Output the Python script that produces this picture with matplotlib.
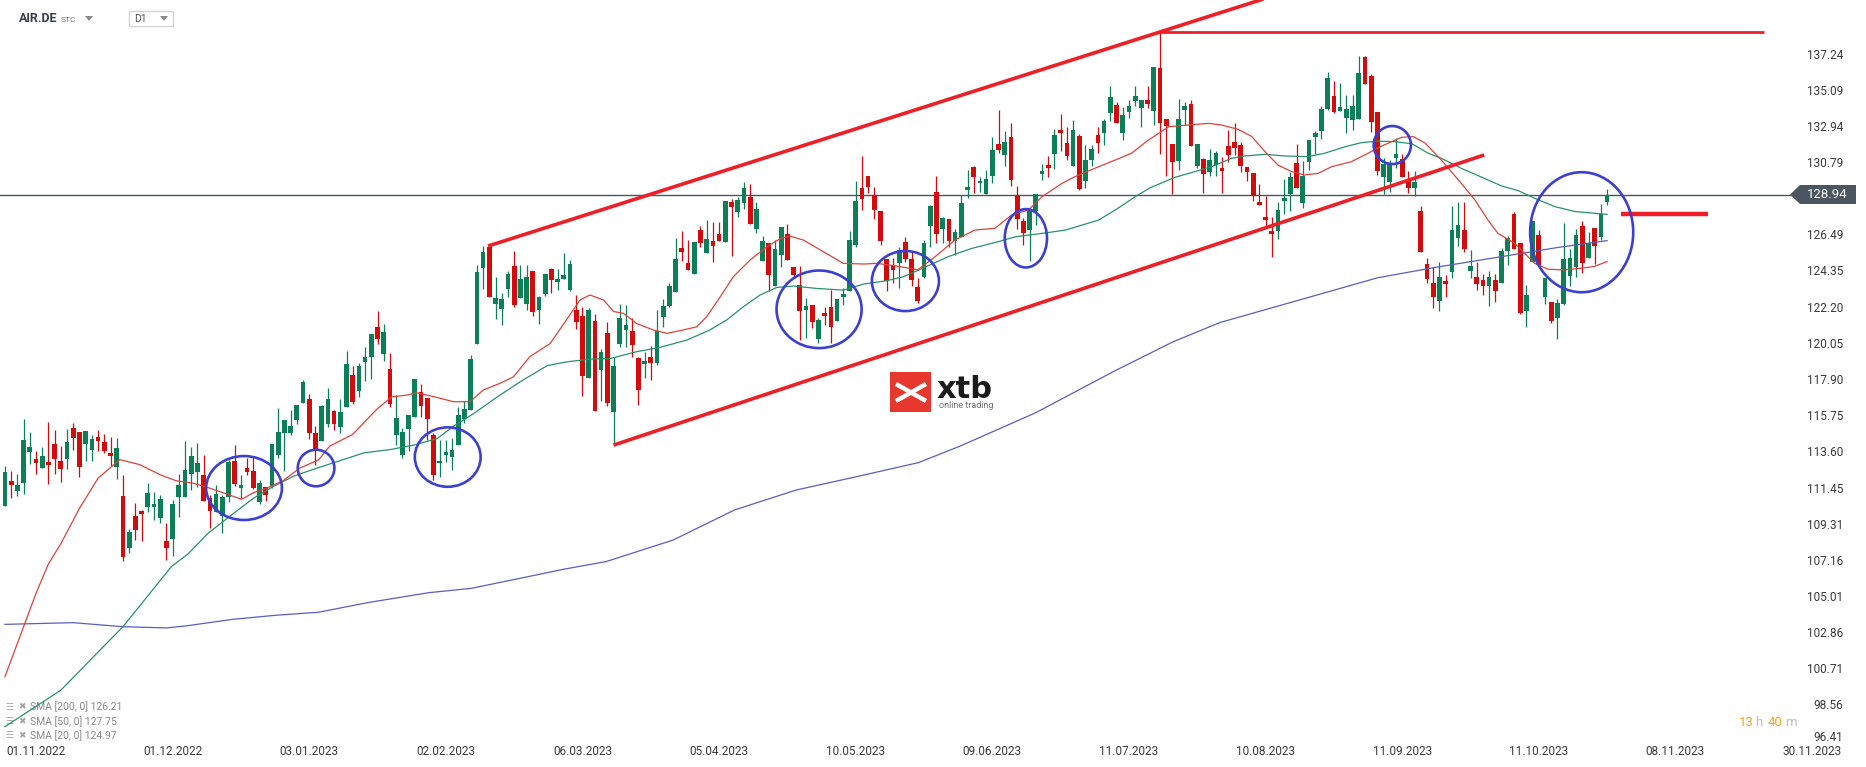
import matplotlib
matplotlib.use("Agg")
import matplotlib.pyplot as plt
import numpy as np
from matplotlib.patches import Ellipse, Rectangle, Polygon

plt.rcParams['font.family'] = ['Roboto', 'DejaVu Sans']

# daily candles, first visible bar sits 5 sessions before 01.11.2022
first_bar = -5
opens = [
    110.46, 111.93, 111.35, 111.79, 113.67, 113.23, 112.72, 113.05, 114.12, 113.11,
    113.23, 115.07, 114.84, 114.14, 113.79, 114.54, 114.24, 113.59, 112.78, 111.03,
    107.96, 109.85, 110.12, 110.40, 110.40, 109.75, 108.36, 108.50, 110.95, 110.95,
    112.36, 112.46, 112.28, 110.92, 110.06, 109.87, 110.97, 113.11, 111.53, 112.70,
    112.52, 110.70, 111.57, 111.63, 113.47, 114.80, 114.80, 115.57, 116.58, 116.80,
    114.78,
    114.32, 115.31, 116.10, 115.15, 116.34, 118.22, 117.29, 119.01, 119.31, 121.07,
    119.47, 118.58, 114.64, 113.49, 114.99, 115.75, 117.19, 116.86, 114.66, 113.00,
    113.47, 113.35, 114.06, 115.61, 116.14, 120.06, 124.58, 125.83, 122.44, 122.14,
    123.33, 124.70, 122.80, 122.44, 124.40, 122.08, 123.03, 124.52, 123.75, 123.93,
    123.27, 122.08, 121.73, 118.04, 121.43, 118.52, 120.72, 116.02, 120.06,
    120.90, 120.84, 119.24, 118.86, 119.27, 118.92, 121.69, 122.34, 123.17, 125.77,
    124.88, 124.22, 126.86, 125.47, 126.17, 126.60, 126.15, 128.52, 127.93, 128.42,
    128.82, 126.90, 125.00, 126.09, 123.53, 125.35, 126.60, 124.66, 123.57, 122.09,
    122.38, 120.36, 121.89, 122.24, 121.45, 122.84, 123.23, 125.93, 129.33, 130.05,
    128.92, 127.95, 125.10, 124.76, 124.90, 126.11, 125.10, 123.43,
    124.07, 127.10, 129.08, 126.88, 127.47, 126.17, 126.40, 129.24, 130.58, 129.61,
    128.98, 130.07, 131.95, 131.30, 132.37, 128.88, 127.38, 126.84, 127.99, 130.19,
    130.68, 131.38, 132.78, 132.01, 130.64, 132.43, 129.77, 131.02, 132.49, 132.60,
    133.81, 134.27, 132.62, 133.87, 134.53, 134.11, 134.56,
    133.93, 136.47, 133.44, 131.95, 130.96, 133.97, 134.33, 130.64, 131.06, 130.29,
    130.70, 130.52, 131.83, 132.07, 131.89, 130.58, 130.23, 128.50, 127.61, 126.78,
    126.80, 128.58, 128.98, 130.82, 128.46, 130.90, 132.39, 132.74, 134.01, 134.80,
    133.93, 133.52, 133.40, 133.46, 137.12, 135.99, 133.85,
    130.01, 129.70, 131.14, 131.06, 129.86, 129.34, 127.97, 124.83, 123.70, 122.65,
    123.81, 124.35, 126.39, 126.85, 124.41, 124.05, 123.87, 123.54, 123.87, 123.70,
    125.60, 127.80, 126.05, 122.00, 124.96, 126.55, 122.88, 122.57, 121.64, 122.47,
    124.13, 124.67, 127.08, 125.20, 126.96, 126.45, 128.53,
]
highs = [
    112.82, 112.52, 112.34, 115.61, 114.84, 113.71, 113.95, 115.43, 114.96, 114.01,
    115.01, 115.37, 114.84, 114.90, 114.66, 114.96, 114.72, 114.54, 114.48, 112.28,
    109.07, 110.62, 110.20, 111.81, 111.27, 111.09, 109.43, 110.80, 112.36, 114.30,
    113.95, 114.18, 113.47, 111.09, 111.69, 111.09, 113.17, 114.06, 112.28, 113.29,
    113.35, 111.98, 111.57, 114.12, 116.26, 115.55, 116.14, 116.44, 117.93, 117.09,
    115.19,
    116.44, 117.45, 116.14, 116.80, 119.65, 118.76, 118.94, 119.89, 120.66, 122.02,
    121.25, 119.53, 117.03, 115.05, 115.85, 117.98, 117.69, 116.86, 114.80, 114.36,
    114.36, 114.48, 116.32, 116.68, 119.41, 124.76, 125.89, 125.89, 124.04, 123.09,
    124.40, 125.59, 124.76, 124.76, 124.40, 122.92, 124.22, 124.58, 124.52, 125.47,
    125.05, 122.98, 122.26, 122.20, 121.85, 119.77, 121.37, 119.29, 122.44,
    122.38, 121.59, 119.30, 119.61, 119.94, 122.09, 122.76, 123.67, 126.38, 126.80,
    126.24, 126.13, 127.10, 127.43, 127.30, 127.30, 128.56, 128.66, 128.82, 129.71,
    129.57, 128.52, 126.48, 126.09, 126.24, 127.02, 127.19, 124.66, 124.72, 122.82,
    122.38, 121.59, 122.28, 123.27, 122.72, 123.37, 126.78, 129.75, 131.24, 130.05,
    129.41, 127.95, 125.10, 125.16, 125.81, 126.40, 125.55, 124.00,
    126.25, 128.35, 130.05, 127.63, 127.47, 126.88, 128.92, 130.41, 130.64, 129.97,
    130.41, 132.37, 133.97, 132.72, 133.20, 129.48, 127.57, 128.23, 128.96, 130.76,
    131.22, 132.84, 133.73, 132.94, 133.38, 132.55, 131.89, 131.89, 132.94, 133.44,
    135.40, 134.45, 134.17, 134.57, 135.40, 134.56, 135.40,
    136.53, 138.61, 133.44, 131.95, 134.60, 134.45, 134.56, 131.95, 131.14, 131.65,
    131.53, 131.20, 132.78, 133.20, 132.07, 130.58, 130.23, 129.57, 128.86, 127.63,
    128.48, 129.87, 130.31, 131.95, 130.94, 132.19, 132.74, 134.21, 136.23, 135.69,
    135.57, 134.86, 134.86, 137.18, 137.18, 136.11, 133.85,
    131.10, 131.00, 132.29, 131.36, 130.35, 130.35, 128.27, 125.18, 124.67, 124.94,
    124.17, 128.27, 128.49, 128.49, 125.66, 124.94, 124.23, 124.41, 124.23, 125.78,
    126.49, 127.92, 126.05, 123.58, 127.38, 126.85, 124.01, 122.57, 122.75, 127.26,
    125.72, 126.90, 127.38, 126.73, 126.96, 128.39, 129.28,
]
lows = [
    110.46, 110.94, 111.03, 111.15, 112.96, 112.36, 112.72, 111.77, 112.36, 111.89,
    112.66, 113.77, 112.18, 113.11, 113.11, 113.71, 113.59, 112.84, 112.06, 107.20,
    107.63, 108.42, 108.38, 110.08, 109.61, 109.43, 107.23, 107.47, 109.81, 110.95,
    111.41, 111.57, 110.76, 109.13, 110.06, 108.86, 110.70, 111.63, 110.94, 112.28,
    111.45, 110.58, 110.76, 111.51, 113.29, 112.54, 114.68, 115.29, 116.58, 114.42,
    112.90,
    114.32, 115.13, 114.96, 114.80, 116.34, 116.50, 116.94, 117.87, 118.00, 120.06,
    119.05, 116.34, 114.06, 113.27, 113.73, 115.75, 115.75, 114.34, 111.99, 112.17,
    113.06, 112.58, 114.06, 115.35, 116.14, 120.06, 123.31, 122.86, 121.55, 121.19,
    122.86, 122.26, 122.80, 122.08, 121.73, 121.25, 122.92, 123.09, 123.27, 123.93,
    123.21, 120.95, 116.98, 118.04, 116.08, 116.68, 116.38, 114.06, 119.91,
    119.91, 119.27, 116.44, 118.02, 117.93, 118.82, 121.09, 122.28, 123.17, 125.02,
    124.48, 124.22, 125.81, 125.47, 124.94, 126.20, 126.15, 125.29, 127.63, 128.09,
    127.21, 126.64, 125.00, 123.19, 123.53, 124.62, 125.06, 123.97, 120.30, 120.40,
    121.00, 120.10, 121.19, 120.10, 121.45, 122.38, 123.23, 125.85, 128.03, 129.02,
    127.49, 125.95, 123.21, 123.71, 123.41, 124.96, 123.53, 122.48,
    123.97, 125.81, 126.05, 126.05, 125.81, 125.36, 126.40, 128.72, 129.06, 129.12,
    128.98, 129.65, 131.40, 130.64, 129.48, 126.92, 125.93, 125.02, 127.14, 129.79,
    130.01, 130.45, 131.51, 131.00, 130.64, 129.24, 129.36, 130.64, 131.40, 131.89,
    133.34, 133.18, 132.19, 133.48, 134.19, 132.94, 134.07,
    133.08, 131.36, 130.07, 128.98, 130.41, 133.08, 131.85, 130.54, 129.04, 130.07,
    130.07, 129.04, 130.90, 131.30, 130.31, 129.75, 128.58, 128.35, 127.04, 125.26,
    126.31, 127.81, 127.99, 129.36, 128.17, 130.43, 131.38, 132.23, 133.95, 133.81,
    133.93, 132.62, 132.78, 133.46, 135.54, 132.68, 130.11,
    128.97, 129.12, 130.51, 129.97, 129.06, 128.89, 125.54, 123.72, 122.23, 122.00,
    122.88, 123.99, 125.92, 125.56, 124.01, 123.28, 122.98, 122.35, 122.59, 123.70,
    124.79, 125.74, 121.87, 121.10, 124.96, 124.77, 122.47, 121.34, 120.35, 122.41,
    123.54, 124.07, 124.31, 125.20, 124.83, 126.25, 128.35,
]
closes = [
    112.46, 111.71, 111.69, 114.36, 113.95, 113.01, 113.41, 112.90, 113.23, 112.66,
    114.24, 114.50, 112.78, 114.90, 114.42, 114.32, 113.71, 113.41, 113.89, 107.40,
    108.89, 109.03, 109.95, 111.21, 110.56, 110.86, 107.96, 110.56, 111.69, 112.58,
    113.41, 112.99, 110.76, 110.16, 111.15, 110.97, 113.05, 111.75, 111.69, 112.46,
    111.51, 111.81, 111.11, 114.12, 114.84, 115.55, 115.19, 116.44, 117.81, 114.80,
    113.79,
    116.38, 116.80, 115.29, 116.02, 118.88, 116.64, 118.76, 119.29, 120.66, 120.38,
    120.78, 116.50, 115.67, 114.84, 115.85, 117.98, 116.40, 115.59, 112.28, 113.12,
    113.65, 113.77, 115.85, 116.20, 119.17, 124.34, 125.53, 122.86, 122.80, 122.74,
    124.22, 122.38, 123.93, 124.04, 121.97, 122.86, 124.22, 123.87, 123.93, 124.16,
    124.82, 121.37, 118.16, 122.08, 116.08, 119.59, 116.56, 118.76, 121.63,
    121.19, 120.00, 117.33, 119.05, 118.92, 120.84, 122.32, 123.53, 125.12, 125.55,
    124.48, 126.13, 126.09, 126.30, 125.91, 126.20, 128.56, 128.22, 128.62, 129.33,
    127.21, 128.09, 126.19, 124.16, 125.71, 127.02, 125.06, 124.19, 122.03, 122.32,
    121.39, 121.49, 121.75, 121.09, 122.72, 123.03, 126.24, 128.58, 128.70, 129.41,
    128.03, 126.19, 123.81, 124.46, 125.65, 125.10, 123.87, 122.64,
    126.09, 128.27, 126.62, 127.53, 126.19, 126.70, 128.43, 129.40, 130.01, 129.75,
    129.85, 131.59, 131.59, 132.07, 129.79, 127.49, 126.64, 127.99, 128.96, 130.35,
    130.54, 132.49, 132.62, 131.26, 132.78, 129.30, 131.00, 131.65, 132.00, 133.32,
    134.74, 133.18, 133.67, 134.21, 134.80, 134.56, 134.33,
    136.53, 133.22, 133.04, 130.90, 133.44, 134.21, 131.85, 131.95, 130.19, 131.00,
    131.40, 130.37, 131.30, 131.73, 130.66, 130.31, 128.88, 128.35, 127.43, 126.62,
    128.03, 128.74, 130.01, 129.36, 130.07, 132.19, 132.58, 134.03, 135.87, 133.87,
    134.15, 134.03, 134.21, 136.17, 135.54, 133.28, 130.37,
    130.75, 130.75, 131.36, 129.97, 129.34, 129.70, 125.54, 123.93, 122.88, 124.05,
    123.64, 126.85, 127.14, 125.74, 124.71, 123.64, 123.54, 124.05, 123.24, 125.60,
    126.39, 125.74, 121.93, 122.98, 127.38, 124.77, 124.01, 121.46, 122.51, 125.12,
    125.18, 126.55, 124.90, 126.09, 125.92, 127.80, 128.94,
]

# moving averages (bar index, value)
sma20_bars = [-5, 0, 2, 4, 7, 10, 13.5, 16.7, 20, 22.5, 25.3, 27.6, 31.2, 33.1, 35, 37.1,
              39.8, 42.5, 45.5, 47.3, 51, 54.9, 57.3, 59.7, 61.3, 64.5, 67.2, 69.9, 72,
              74.7, 76.9, 79.5, 82.8, 85.4, 87.6, 89.2, 91.4, 93, 94.6, 96.7, 99.4, 101.6,
              104.2, 106.4, 108, 110.2, 112.3, 115, 117.7, 119.9, 121.4, 123.6, 126.8, 130,
              133.3, 135.4, 138.6, 142, 144.8, 148, 151.2, 154.4, 157.1, 159.8, 162, 165.2,
              167.3, 170.5, 173.8, 176.4, 179, 182.4, 185.6, 188.8, 190.9, 193.6, 195.8,
              197.9, 200, 202.2, 204.3, 206.5, 208.6, 211.8, 214.5, 216.4, 218.3, 219.9,
              221.8, 223.7, 226.3, 229.5, 231.7, 233.8, 235.4, 238.1, 239.7, 241.3, 243.5,
              246.1, 248.8, 250.9, 253]
sma20_vals = [100.3, 105.25, 107.0, 108.2, 110.3, 112.1, 113.2, 112.9, 112.3, 111.95, 111.8,
              111.55, 111.09, 110.84, 111.23, 111.49, 111.95, 112.7, 113.18, 114.0, 114.7,
              116.2, 116.93, 117.03, 117.17, 116.9, 116.64, 116.64, 117.33, 117.73, 118.12,
              119.31, 120.1, 121.49, 122.68, 122.98, 122.68, 122.0, 121.89, 121.29, 120.9,
              120.7, 120.9, 121.09, 121.69, 122.88, 124.07, 125.06, 125.85, 126.34, 126.48,
              126.24, 125.55, 124.86, 124.82, 124.86, 124.7, 124.48, 125.26, 126.25, 126.84,
              126.94, 127.73, 128.03, 128.82, 129.61, 130.01, 130.51, 131.0, 131.4, 132.15,
              132.98, 133.08, 133.18, 133.08, 132.82, 132.39, 131.5, 130.7, 130.31, 130.11,
              130.21, 130.6, 130.9, 131.4, 131.78, 132.09, 132.35, 132.39, 132.0, 131.0,
              129.62, 128.63, 127.44, 126.65, 126.05, 125.46, 124.87, 124.51, 124.47, 124.57,
              124.67, 124.97]
sma50_bars = [-5, 4, 14, 21.8, 24.5, 27.7, 31.8, 35, 38.2, 41.4, 44.1, 47.4, 52.8, 57.1,
              60.8, 64.6, 67.3, 70.5, 74.3, 78, 82.3, 85.5, 89.3, 92.4, 96.7, 100.5, 104.8,
              108.5, 111.2, 113.9, 116.6, 119.3, 122, 125.7, 130, 133.3, 137, 139.7, 142,
              146.9, 150.7, 155, 157.7, 162, 165.8, 171.1, 173.8, 177, 179.4, 183.4, 186.6,
              189.3, 192.5, 194.7, 197.9, 201.1, 204.8, 207.5, 210.8, 213.4, 216, 218.9,
              221.6, 224.2, 226.3, 229.5, 232.8, 236, 238.7, 241.3, 244.6, 247.8, 253]
sma50_vals = [97.33, 99.5, 103.27, 106.84, 107.6, 108.82, 110.0, 110.9, 111.6, 112.2, 112.55,
              112.95, 113.6, 113.8, 114.06, 114.45, 115.2, 115.94, 116.93, 117.83, 118.78,
              119.01, 119.17, 119.2, 119.61, 119.87, 120.3, 120.9, 121.49, 122.28, 122.98,
              123.43, 123.51, 123.37, 123.27, 123.63, 123.83, 124.07, 124.44, 125.26, 125.75,
              126.15, 126.44, 126.64, 126.84, 127.43, 128.03, 128.82, 129.35, 129.97, 130.31,
              130.6, 131.1, 131.24, 131.34, 131.24, 131.2, 131.4, 131.79, 132.03, 132.12,
              132.09, 131.96, 131.4, 131.1, 130.51, 129.98, 129.46, 129.18, 128.73, 128.23,
              127.94, 127.77]
sma200_bars = [-5, 6, 14, 21, 24, 31.7, 38.6, 45.5, 53.4, 63.2, 70.1, 78, 84.9, 91.8, 102.6,
               112.5, 122.4, 132.2, 142.1, 148.8, 160.9, 173.6, 183.1, 190.7, 203.8, 216,
               225, 235, 245, 253]
sma200_vals = [103.41, 103.51, 103.27, 103.2, 103.31, 103.71, 103.95, 104.13, 104.7, 105.29,
               105.55, 106.15, 106.68, 107.14, 108.42, 110.21, 111.39, 112.19, 113.02, 114.0,
               115.97, 118.45, 120.2, 121.35, 122.72, 124.0, 124.6, 125.2, 125.8, 126.21]

last_price = 128.94
price_ticks = [137.24, 135.09, 132.94, 130.79, 126.49, 124.35, 122.20, 120.05, 117.90,
               115.75, 113.60, 111.45, 109.31, 107.16, 105.01, 102.86, 100.71, 98.56, 96.41]
date_labels = ["01.11.2022", "01.12.2022", "03.01.2023", "02.02.2023", "06.03.2023",
               "05.04.2023", "10.05.2023", "09.06.2023", "11.07.2023", "10.08.2023",
               "11.09.2023", "11.10.2023", "08.11.2023", "30.11.2023"]
legend_rows = ["SMA [200, 0] 126.21", "SMA [50, 0] 127.75", "SMA [20, 0] 124.97"]

GREEN = '#0b8057'
RED = '#d20b0b'
LINE_RED = '#ee1f27'
CIRCLE = '#3b40d2'

W, H = 1866, 767
PX_BAR, PX_UNIT = 6.21, 16.83

fig = plt.figure(figsize=(W / 100, H / 100), dpi=100)
ax = fig.add_axes([0, 0, 1, 1])
ax.set_xlim(-36 / PX_BAR, (W - 36) / PX_BAR)
ax.set_ylim(137.24 - (H - 55) / PX_UNIT, 137.24 + 55 / PX_UNIT)
ax.axis('off')


def fx(px):
    return px / W


def fy(py):
    return 1 - py / H


# candles
o, hi, lo, c = map(np.array, (opens, highs, lows, closes))
bars = np.arange(first_bar, first_bar + len(o))
cols = np.where(c >= o, GREEN, RED)
ax.vlines(bars, lo, hi, colors=cols, lw=0.9, zorder=3)
ax.bar(bars, np.maximum(np.abs(c - o), 0.09), bottom=np.minimum(o, c), width=0.76,
       color=cols, lw=0, zorder=4)

# moving averages
ax.plot(sma200_bars, sma200_vals, color='#5a5dc2', lw=0.9, zorder=5)
ax.plot(sma50_bars, sma50_vals, color='#27926a', lw=0.9, zorder=5)
ax.plot(sma20_bars, sma20_vals, color='#e2413b', lw=0.9, zorder=5)

# last price line
ax.axhline(last_price, xmin=0, xmax=fx(1794), color='#4a5560', lw=1.0, zorder=2)

# trend channel and levels
up_a, up_b = (72.8, 125.89), (181, 138.61)
slope = (up_b[1] - up_a[1]) / (up_b[0] - up_a[0])
ax.plot([up_a[0], 200], [up_a[1], up_a[1] + slope * (200 - up_a[0])],
        color=LINE_RED, lw=2.6, solid_capstyle='butt', zorder=6)
ax.plot([93, 233.2], [114.06, 131.30], color=LINE_RED, lw=2.6, solid_capstyle='butt', zorder=6)
ax.hlines(138.61, 181, 278.3, color=LINE_RED, lw=2.0, zorder=6)
ax.hlines(127.79, 255.2, 269.2, color=LINE_RED, lw=3.2, zorder=6)

# hand drawn circles (bar, price, width in bars, height in price)
circles = [(33.5, 111.51, 12.2, 3.8), (45.1, 112.70, 5.9, 2.17), (66.3, 113.35, 10.6, 3.53),
           (126.1, 122.13, 13.7, 4.61), (140.0, 123.81, 10.8, 3.57), (159.4, 126.35, 6.8, 3.47),
           (218.4, 131.89, 6.0, 2.26), (248.9, 126.71, 16.6, 7.13)]
for cx, cy, w, h in circles:
    ax.add_patch(Ellipse((cx, cy), w, h, fill=False, ec=CIRCLE, lw=1.9, zorder=7))

# price axis labels (the lowest one is pushed up above the date row)
ytr = ax.get_yaxis_transform()
lowest_label = 137.24 - (737 - 55) / PX_UNIT
for p in price_ticks:
    ax.text(fx(1843), max(p, lowest_label), f"{p:.2f}", transform=ytr, ha='right',
            va='center', fontsize=8.5, color='#3a3a3a', zorder=8)
box = [(1790, 194.5), (1800, 185), (1856, 185), (1856, 204), (1800, 204)]
ax.add_patch(Polygon([(fx(x), fy(y)) for x, y in box], closed=True, fc='#4b5661', ec='none',
                     transform=ax.transAxes, zorder=9))
ax.text(fx(1827), fy(195), f"{last_price:.2f}", transform=ax.transAxes, ha='center',
        va='center', fontsize=9.5, color='white', zorder=10)

# date axis labels
date_y = 137.24 - (751 - 55) / PX_UNIT
for i, lab in enumerate(date_labels):
    ax.text(i * 22, date_y, lab, ha='center', va='center', fontsize=8.5, color='#3a3a3a')

# header
ax.text(fx(19), fy(19), "AIR.DE", transform=ax.transAxes, fontsize=9, fontweight='bold',
        color='#3c4047', va='center')
ax.text(fx(61), fy(20), "STC", transform=ax.transAxes, fontsize=6, color='#777777', va='center')
for x0 in (85, 160):
    tri = [(x0, 16), (x0 + 8, 16), (x0 + 4, 21)]
    ax.add_patch(Polygon([(fx(x), fy(y)) for x, y in tri], closed=True, fc='#8a8a8a',
                         ec='none', transform=ax.transAxes))
ax.add_patch(Rectangle((fx(129), fy(26)), fx(44), 15 / H, fill=False, ec='#d6d6d6', lw=1,
                       transform=ax.transAxes))
ax.text(fx(134), fy(19.5), "D1", transform=ax.transAxes, fontsize=7.5, color='#555555',
        va='center')

# indicator legend
for i, row in enumerate(legend_rows):
    yy = 707 + i * 14.5
    ax.text(fx(5), fy(yy), "☰", transform=ax.transAxes, fontsize=6.5, color='#a5a5a5',
            va='center')
    ax.text(fx(18), fy(yy), "✖", transform=ax.transAxes, fontsize=6.5, color='#a5a5a5',
            va='center')
    ax.text(fx(30), fy(yy), row, transform=ax.transAxes, fontsize=7.5, color='#8a8a8a',
            va='center')

# countdown
for txt, x0, col in (("13", 1739, '#f5a41c'), ("h", 1755, '#bdbdbd'),
                     ("40", 1768, '#f5a41c'), ("m", 1785, '#bdbdbd')):
    ax.text(fx(x0), fy(723), txt, transform=ax.transAxes, fontsize=9.5, color=col, va='center')

# xtb watermark
ax.add_patch(Rectangle((fx(890), fy(412)), fx(41), 40 / H, fc='#e8372c', ec='none',
                       transform=ax.transAxes, zorder=1))
ax.plot([fx(896), fx(926)], [fy(384), fy(401)], color='white', lw=3.2,
        transform=ax.transAxes, zorder=1, solid_capstyle='butt')
ax.plot([fx(896), fx(926)], [fy(401), fy(384)], color='white', lw=3.2,
        transform=ax.transAxes, zorder=1, solid_capstyle='butt')
ax.text(fx(937), fy(398), "xtb", transform=ax.transAxes, fontsize=22, fontweight='bold',
        family='DejaVu Sans', color='#1b1b1b', va='baseline', zorder=1)
ax.text(fx(939), fy(406), "online trading", transform=ax.transAxes, fontsize=6.5,
        color='#707070', va='center', zorder=1)

fig.savefig("out.png", dpi=100)
